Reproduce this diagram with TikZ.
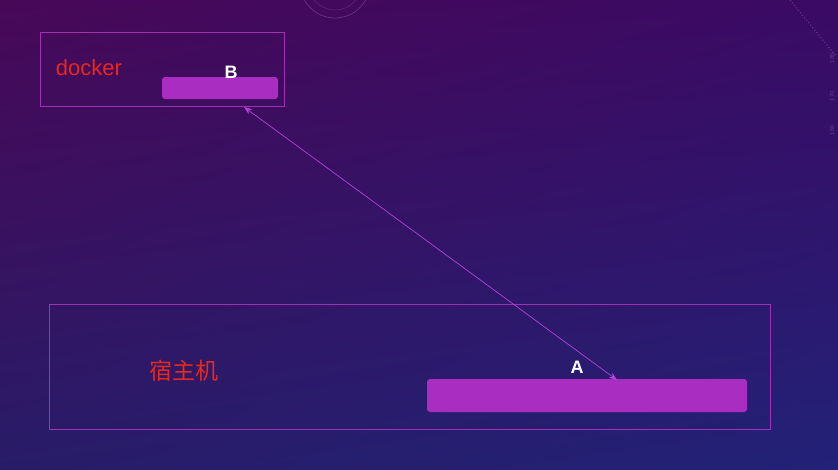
\documentclass[tikz,border=0pt]{standalone}
\usepackage{fontspec}
\setmainfont{Liberation Sans}
\newfontfamily\cjk{Noto Sans CJK SC}
\usetikzlibrary{shadings,arrows.meta}
\definecolor{bgUL}{RGB}{72,8,88}
\definecolor{bgUR}{RGB}{58,10,100}
\definecolor{bgLL}{RGB}{40,28,104}
\definecolor{bgLR}{RGB}{34,34,120}
\definecolor{frame}{RGB}{160,48,180}
\definecolor{barfill}{RGB}{168,45,192}
\definecolor{redtxt}{RGB}{232,40,30}
\definecolor{linkc}{RGB}{180,66,214}
\definecolor{decor}{RGB}{130,70,150}
\tikzset{
  x=1pt, y=-1pt,
  hostbox/.style={draw=frame, line width=0.8pt},
  bar/.style={fill=barfill, draw=none, rounded corners=3pt},
  redlabel/.style={text=redtxt, inner sep=0pt, anchor=center},
  barlabel/.style={text=white, font=\bfseries\fontsize{18}{18}\selectfont, inner sep=0pt},
  link/.style={draw=linkc, line width=0.7pt, {Stealth[length=8pt,width=6pt]}-{Stealth[length=8pt,width=6pt]}},
  decorline/.style={draw=decor, line width=0.8pt, opacity=0.6},
  tinynum/.style={text=decor, opacity=0.7, rotate=90, font=\fontsize{6}{6}\selectfont, inner sep=0pt}
}
\begin{document}
\begin{tikzpicture}
\useasboundingbox (0,0) rectangle (838,469);
\shade[upper left=bgUL, upper right=bgUR, lower left=bgLL, lower right=bgLR] (0,0) rectangle (838,469);
% background decorations
\coordinate (ctr) at (335,-17);
\draw[decorline] (ctr) circle[radius=35pt];
\draw[decorline, opacity=0.35] (ctr) circle[radius=27pt];
\draw[decor, opacity=0.6, dotted, line width=1.2pt] (790,0) -- (836,56);
\node[tinynum] (n180) at (832,58) {180};
\node[tinynum] (n170) at (832,96) {170};
\node[tinynum] (n160) at (832,130) {160};
% docker box
\draw[hostbox] (40,32) rectangle (284,106);
\node[redlabel, font=\fontsize{22}{22}\selectfont] (docker) at (89,68) {docker};
\path[bar] (162,77) rectangle (278,99);
\coordinate (Bbar) at (244,107);
\node[barlabel] (B) at (231,72) {B};
% host box
\draw[hostbox] (49,304) rectangle (770,429);
\node[redlabel, font=\cjk\fontsize{23}{23}\selectfont] (host) at (184,371) {宿主机};
\path[bar] (427,379) rectangle (747,412);
\coordinate (Abar) at (617,380);
\node[barlabel] (A) at (577,367) {A};
% link
\draw[link] (Bbar) -- (Abar);
\end{tikzpicture}
\end{document}
